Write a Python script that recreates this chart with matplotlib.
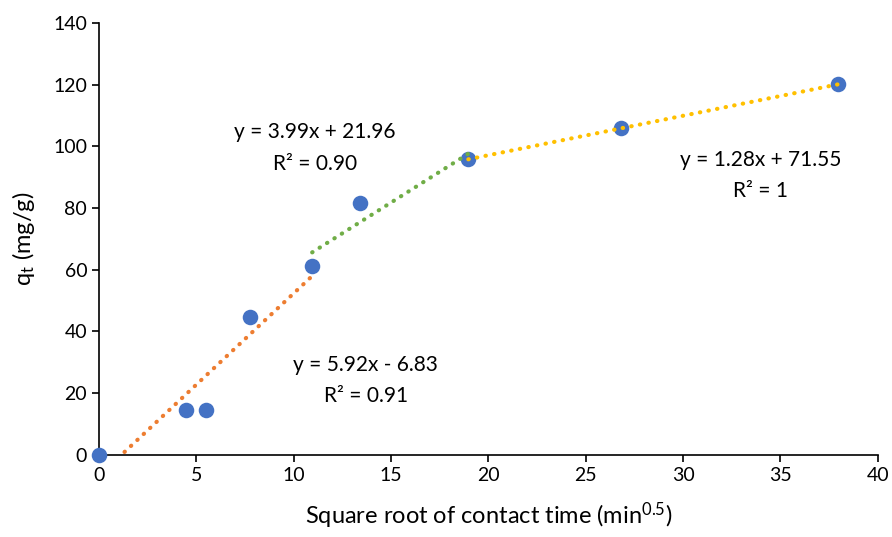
import numpy as np
import matplotlib.pyplot as plt

plt.rcParams['font.family'] = ['Lato', 'DejaVu Sans']
plt.rcParams['mathtext.default'] = 'regular'

# data: square root of contact time vs q_t
sqrt_t = [0.0, 4.47, 5.48, 7.75, 10.95, 13.42, 18.97, 26.83, 37.95]
q_t = [0.0, 14.6, 14.6, 44.7, 61.2, 81.7, 95.9, 106.0, 120.2]

# trendline segments (index range into data) and fitted coefficients
seg_idx = [(0, 5), (4, 7), (6, 9)]
slopes = [5.92, 3.99, 1.28]
intercepts = [-6.83, 21.96, 71.55]
labels = ['y = 5.92x - 6.83\nR² = 0.91',
          'y = 3.99x + 21.96\nR² = 0.90',
          'y = 1.28x + 71.55\nR² = 1']
label_pos = [(13.7, 24.0), (11.1, 99.5), (34.0, 90.7)]
colors = ['#ED7D31', '#70AD47', '#FFC000']

fig, ax = plt.subplots(figsize=(8.92, 5.37), dpi=100)
fig.subplots_adjust(left=0.111, right=0.984, bottom=0.153, top=0.957)

ax.scatter(sqrt_t, q_t, s=125, color='#4472C4', zorder=4, linewidths=0,
           clip_on=False)

x = np.array(sqrt_t)
for (a, b), m, c, col, lab, pos in zip(seg_idx, slopes, intercepts, colors, labels, label_pos):
    xs = np.array([x[a], x[b - 1]])
    ax.plot(xs, m * xs + c, color=col, lw=3, linestyle=(0, (0.1, 2)),
            dash_capstyle='round', zorder=5)
    ax.text(pos[0], pos[1], lab, ha='center', va='center', fontsize=15,
            linespacing=1.7)

ax.set_xlim(0, 40)
ax.set_ylim(0, 140)
ax.set_xticks(range(0, 41, 5))
ax.set_yticks(range(0, 141, 20))
ax.tick_params(labelsize=14, length=5, width=1.2, direction='out')
ax.spines['top'].set_visible(False)
ax.spines['right'].set_visible(False)
ax.spines['left'].set_linewidth(1.2)
ax.spines['bottom'].set_linewidth(1.2)
ax.set_xlabel('Square root of contact time (min$^{0.5}$)', fontsize=17, labelpad=12)
ax.set_ylabel('q$_t$ (mg/g)', fontsize=17, labelpad=12)

plt.savefig('out.png', dpi=100)
